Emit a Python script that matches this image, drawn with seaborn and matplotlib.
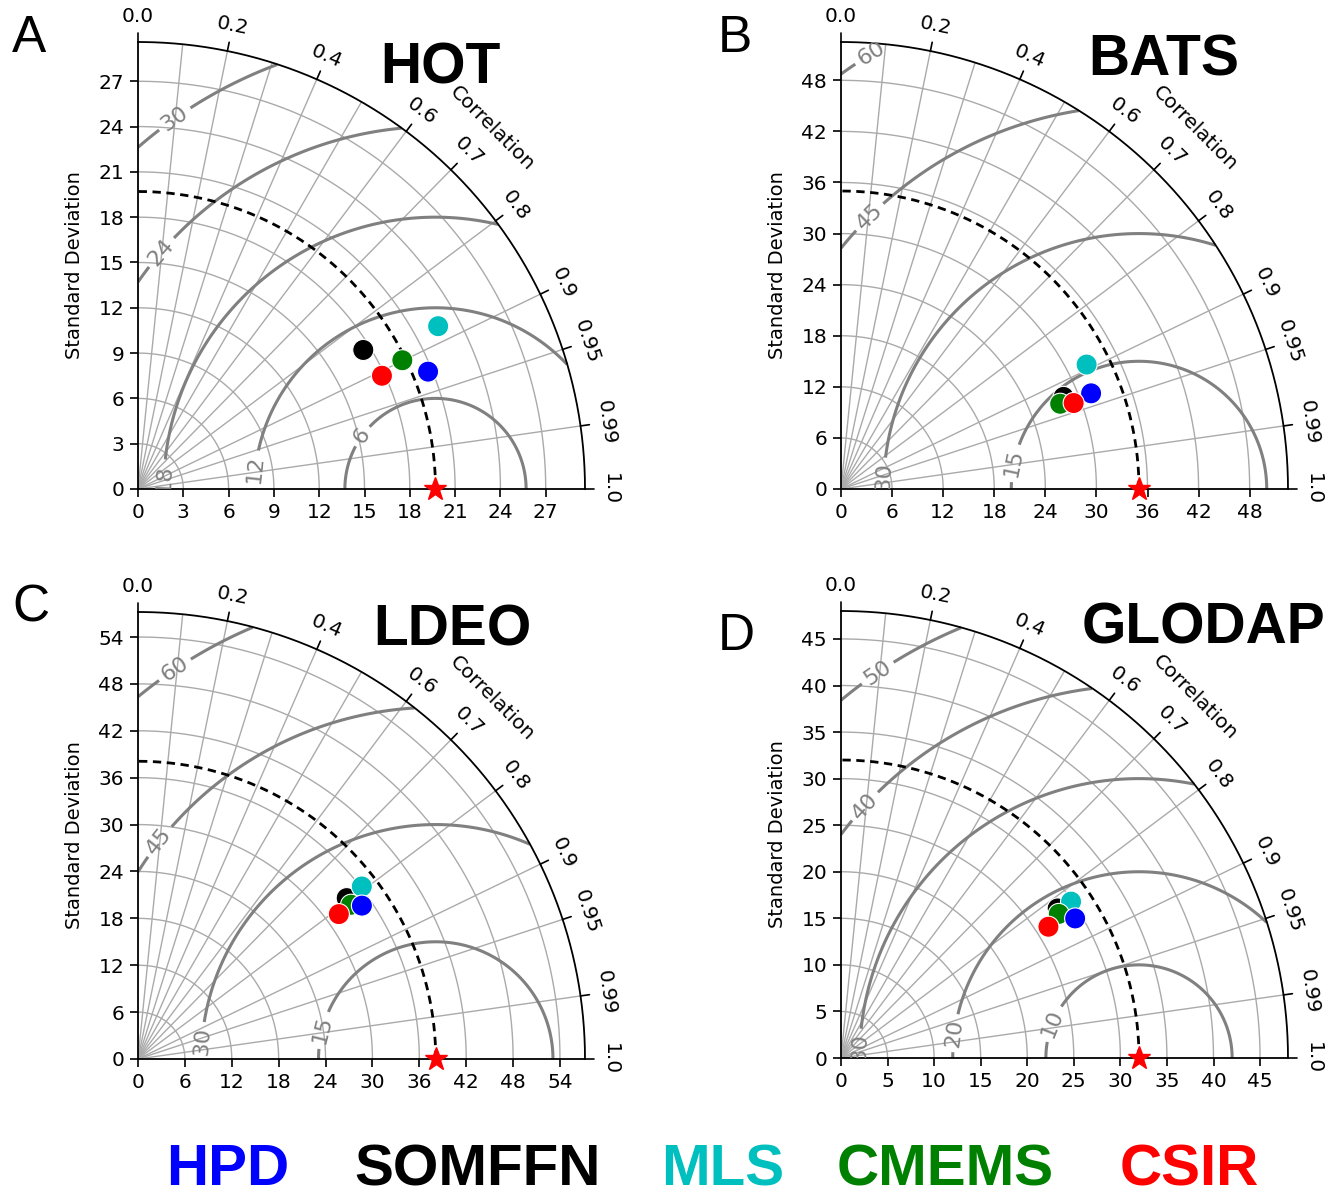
import numpy as np
import pandas as pd
import matplotlib
matplotlib.use('Agg')
import matplotlib.pyplot as plt
import seaborn as sns

# models and their colours
models = ['HPD', 'SOMFFN', 'MLS', 'CMEMS', 'CSIR']
colors = ['#0000ff', '#000000', '#00bfbf', '#008000', '#ff0000']
draw_order = ['SOMFFN', 'MLS', 'CMEMS', 'HPD', 'CSIR']

# panels
stations = ['HOT', 'BATS', 'LDEO', 'GLODAP']
letters = ['A', 'B', 'C', 'D']
obs_std = [19.7, 35.0, 38.1, 32.0]
max_std = [29.6, 52.5, 57.2, 48.0]
std_step = [3, 6, 6, 5]
rms_levels = [[6, 12, 18, 24, 30], [15, 30, 45, 60], [15, 30, 45, 60], [10, 20, 30, 40, 50]]
rms_label_pos = [
    [(14.7, 3.6), (7.8, 1.3), (1.65, 0.7), (1.4, 15.8), (2.3, 24.7)],
    [(20.5, 3.0), (5.0, 1.45), (3.0, 32.3), (3.4, 51.4)],
    [(23.6, 3.7), (8.1, 2.3), (2.8, 27.8), (4.8, 49.7)],
    [(22.6, 3.75), (12.0, 2.7), (1.7, 1.1), (2.6, 27.0), (3.9, 41.4)],
]

# model standard deviation and correlation (order as models)
hot_std = [20.72, 17.53, 22.61, 19.47, 17.81]
hot_corr = [0.927, 0.851, 0.879, 0.899, 0.907]
bats_std = [31.45, 28.29, 32.34, 27.62, 29.13]
bats_corr = [0.934, 0.924, 0.892, 0.932, 0.938]
ldeo_std = [34.73, 33.72, 36.16, 33.66, 31.69]
ldeo_corr = [0.825, 0.792, 0.792, 0.810, 0.811]
glodap_std = [29.27, 28.27, 29.87, 28.04, 26.36]
glodap_corr = [0.859, 0.823, 0.827, 0.834, 0.845]
all_std = [hot_std, bats_std, ldeo_std, glodap_std]
all_corr = [hot_corr, bats_corr, ldeo_corr, glodap_corr]

grid_corr = [0.1, 0.2, 0.3, 0.4, 0.5, 0.6, 0.7, 0.8, 0.9, 0.95, 0.99]
label_corr = [0.0, 0.2, 0.4, 0.6, 0.7, 0.8, 0.9, 0.95, 0.99, 1.0]
label_text = ['0.0', '0.2', '0.4', '0.6', '0.7', '0.8', '0.9', '0.95', '0.99', '1.0']

sns.set_theme(style='ticks')
plt.rcParams['font.family'] = ['DejaVu Sans']
plt.rcParams['text.color'] = 'black'
plt.rcParams['axes.labelcolor'] = 'black'
plt.rcParams['xtick.color'] = 'black'
plt.rcParams['ytick.color'] = 'black'

W, H = 1338, 1199
fig = plt.figure(figsize=(W / 100, H / 100), dpi=100)

origins = [(138, 489), (841, 489), (138, 1059), (841, 1058)]
size_px = 447
letter_pos = [(12, 52), (718, 52), (12, 622), (718, 650)]
title_pos = [(440, 83), (1164, 75), (452, 645), (1203, 643)]
tick_fs = 14.5

for i in range(4):
    ox, oy = origins[i]
    ax = fig.add_axes([ox / W, 1 - oy / H, size_px / W, size_px / H])
    rmax = max_std[i]
    obs = obs_std[i]
    ax.set_xlim(0, rmax)
    ax.set_ylim(0, rmax)
    for s in ['top', 'right']:
        ax.spines[s].set_visible(False)
    for s in ['left', 'bottom']:
        ax.spines[s].set_linewidth(1.3)
        ax.spines[s].set_color('black')
    ticks = np.arange(0, rmax, std_step[i])
    ax.set_xticks(ticks)
    ax.set_yticks(ticks)
    ax.set_xticklabels([str(int(t)) for t in ticks])
    ax.set_yticklabels([str(int(t)) for t in ticks])
    ax.tick_params(direction='out', length=6, width=1.2, labelsize=tick_fs,
                   colors='black', labelcolor='black', pad=4)

    th = np.linspace(0, np.pi / 2, 400)
    # std arcs
    for t in ticks[1:]:
        ax.plot(t * np.cos(th), t * np.sin(th), color='#aaaaaa', lw=1.0, zorder=1)
    # correlation spokes
    for c in grid_corr:
        a = np.arccos(c)
        ax.plot([0, rmax * np.cos(a)], [0, rmax * np.sin(a)], color='#aaaaaa', lw=1.0, zorder=1)
    # outer arc
    ax.plot(rmax * np.cos(th), rmax * np.sin(th), color='black', lw=1.3, zorder=4, clip_on=False)

    # correlation ticks and labels
    for c, txt in zip(label_corr, label_text):
        a = np.arccos(c)
        ax.plot([rmax * np.cos(a), 1.02 * rmax * np.cos(a)],
                [rmax * np.sin(a), 1.02 * rmax * np.sin(a)], color='black', lw=1.2, clip_on=False)
        ax.text(1.057 * rmax * np.cos(a), 1.057 * rmax * np.sin(a), txt, fontsize=tick_fs,
                rotation=np.degrees(a) - 90, rotation_mode='anchor', ha='center', va='center')
    a = np.radians(45.5)
    ax.text(1.13 * rmax * np.cos(a), 1.13 * rmax * np.sin(a), 'Correlation', fontsize=tick_fs,
            rotation=-45, rotation_mode='anchor', ha='center', va='center')
    ax.text(-0.141, 0.5, 'Standard Deviation', transform=ax.transAxes, rotation=90,
            fontsize=14, ha='center', va='center')

    # RMS contours
    xs = np.linspace(0, rmax, 900)
    X, Y = np.meshgrid(xs, xs)
    R = np.hypot(X - obs, Y)
    R = np.ma.masked_where(np.hypot(X, Y) > rmax, R)
    cs = ax.contour(X, Y, R, levels=rms_levels[i], colors='#808080', linewidths=2.2, zorder=2)
    ax.clabel(cs, inline=True, fmt='%d', fontsize=16, colors='#808080', manual=rms_label_pos[i])

    # observation std arc
    ax.plot(obs * np.cos(th), obs * np.sin(th), color='black', lw=2, ls=(0, (3, 2)), zorder=3)

    # model points
    corr = np.array(all_corr[i])
    std = np.array(all_std[i])
    df = pd.DataFrame({'model': models,
                       'x': std * corr,
                       'y': std * np.sin(np.arccos(corr))})
    df = df.set_index('model').loc[draw_order].reset_index()
    sns.scatterplot(data=df, x='x', y='y', hue='model', palette=dict(zip(models, colors)),
                    s=230, edgecolor='white', linewidth=0.8, legend=False, ax=ax, zorder=5)
    ax.set_xlabel('')
    ax.set_ylabel('')
    ax.plot(obs, 0, marker='*', color='red', ms=17, mec='red', clip_on=False, zorder=6)

    lx, ly = letter_pos[i]
    fig.text(lx / W, 1 - ly / H, letters[i], fontsize=37, family='Liberation Sans',
             color='black', ha='left', va='baseline')
    tx, ty = title_pos[i]
    fig.text(tx / W, 1 - ty / H, stations[i], fontsize=41, family='Liberation Sans',
             color='black', weight='bold', ha='center', va='baseline')

legend_x = [228, 478, 723, 945, 1189]
for m, c, x in zip(models, colors, legend_x):
    fig.text(x / W, 1 - 1185 / H, m, color=c, fontsize=42, family='Liberation Sans',
             weight='bold', ha='center', va='baseline')

fig.savefig('out.png', dpi=100, facecolor='white')
